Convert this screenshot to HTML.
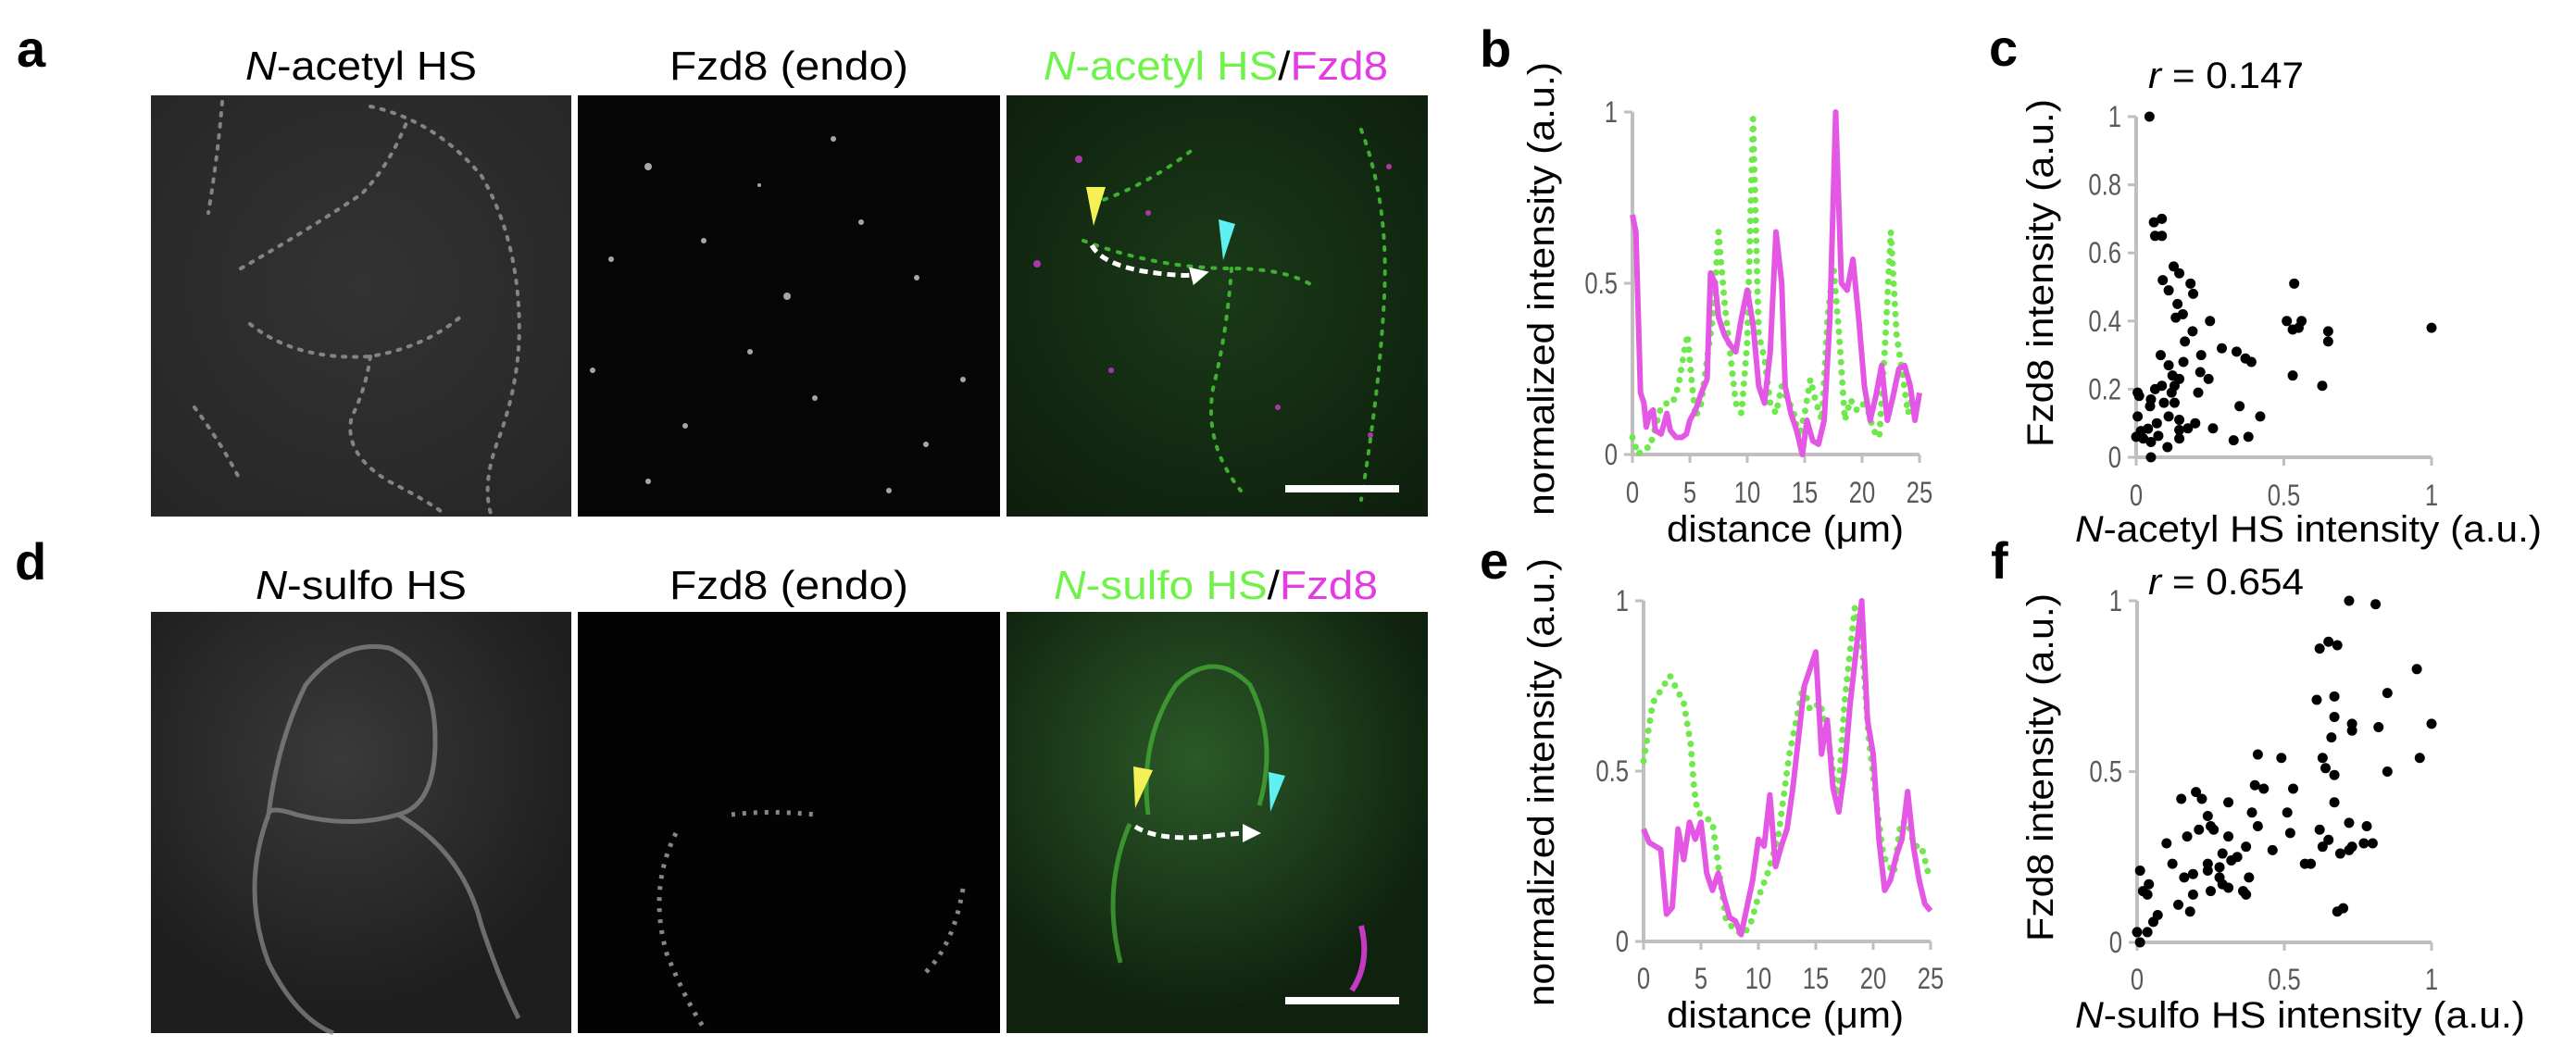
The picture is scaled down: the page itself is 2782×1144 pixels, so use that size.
<!DOCTYPE html>
<html><head><meta charset="utf-8"><style>
html,body{margin:0;padding:0;background:#fff;width:2782px;height:1144px;overflow:hidden}
svg{display:block}
text{font-family:"Liberation Sans",sans-serif}
</style></head><body>
<svg id="fig" width="2782" height="1144" viewBox="0 0 2782 1144" xmlns="http://www.w3.org/2000/svg">
<defs>
<radialGradient id="g1" cx="0.5" cy="0.45" r="0.7"><stop offset="0" stop-color="#333"/><stop offset="1" stop-color="#262626"/></radialGradient>
<radialGradient id="g3" cx="0.5" cy="0.45" r="0.7"><stop offset="0" stop-color="#1a3a18"/><stop offset="1" stop-color="#0e1f0d"/></radialGradient>
<radialGradient id="g4" cx="0.45" cy="0.35" r="0.6"><stop offset="0" stop-color="#3a3a3a"/><stop offset="1" stop-color="#1e1e1e"/></radialGradient>
<radialGradient id="g6" cx="0.45" cy="0.35" r="0.6"><stop offset="0" stop-color="#2c5a28"/><stop offset="1" stop-color="#0f220e"/></radialGradient>
<marker id="ah" markerWidth="4" markerHeight="4" refX="2" refY="2" orient="auto" markerUnits="strokeWidth"><path d="M0,0 L4,2 L0,4 z" fill="#fff"/></marker>
</defs>

<!-- panel letters -->
<text x="18" y="72" font-size="56" font-weight="bold">a</text>
<text x="16" y="626" font-size="56" font-weight="bold">d</text>
<text x="1598" y="72" font-size="56" font-weight="bold">b</text>
<text x="1598" y="625" font-size="56" font-weight="bold">e</text>
<text x="2148" y="71" font-size="56" font-weight="bold">c</text>
<text x="2150" y="625" font-size="56" font-weight="bold">f</text>

<!-- image titles row 1 -->
<text x="390" y="86" font-size="44" text-anchor="middle" textLength="250" lengthAdjust="spacingAndGlyphs"><tspan font-style="italic">N</tspan>-acetyl HS</text>
<text x="852" y="86" font-size="44" text-anchor="middle" textLength="258" lengthAdjust="spacingAndGlyphs">Fzd8 (endo)</text>
<text x="1313" y="86" font-size="44" text-anchor="middle" textLength="372" lengthAdjust="spacingAndGlyphs"><tspan fill="#6ff24a"><tspan font-style="italic">N</tspan>-acetyl HS</tspan><tspan fill="#000">/</tspan><tspan fill="#e23ce2">Fzd8</tspan></text>
<!-- row 2 -->
<text x="390" y="647" font-size="44" text-anchor="middle" textLength="228" lengthAdjust="spacingAndGlyphs"><tspan font-style="italic">N</tspan>-sulfo HS</text>
<text x="852" y="647" font-size="44" text-anchor="middle" textLength="258" lengthAdjust="spacingAndGlyphs">Fzd8 (endo)</text>
<text x="1313" y="647" font-size="44" text-anchor="middle" textLength="350" lengthAdjust="spacingAndGlyphs"><tspan fill="#6ff24a"><tspan font-style="italic">N</tspan>-sulfo HS</tspan><tspan fill="#000">/</tspan><tspan fill="#e23ce2">Fzd8</tspan></text>

<!-- micrographs row 1 -->
<g>
<rect x="163" y="103" width="454" height="455" fill="url(#g1)"/>
<g fill="none" stroke="#9a9a9a" stroke-width="4" stroke-dasharray="3 9" stroke-linecap="round" opacity="0.8">
<path d="M400,115 Q470,130 520,190 Q555,250 560,330 Q565,400 540,470 Q520,520 530,555"/>
<path d="M260,290 Q330,250 390,210 Q420,180 440,130"/>
<path d="M270,350 Q320,390 400,385 Q460,375 500,340"/>
<path d="M400,385 Q395,420 380,450 Q370,490 420,520 Q460,540 480,555"/>
<path d="M210,440 Q240,480 260,520"/>
<path d="M240,110 Q235,170 225,230"/>
</g></g>
<g>
<rect x="624" y="103" width="456" height="455" fill="#050505"/>
<g fill="#cfcfcf" opacity="0.8">
<circle cx="700" cy="180" r="4"/><circle cx="760" cy="260" r="3"/><circle cx="850" cy="320" r="4"/><circle cx="810" cy="380" r="3"/>
<circle cx="660" cy="280" r="3"/><circle cx="930" cy="240" r="3"/><circle cx="990" cy="300" r="3"/><circle cx="880" cy="430" r="3"/>
<circle cx="740" cy="460" r="3"/><circle cx="1000" cy="480" r="3"/><circle cx="700" cy="520" r="3"/><circle cx="960" cy="530" r="3"/>
<circle cx="1040" cy="410" r="3"/><circle cx="640" cy="400" r="3"/><circle cx="820" cy="200" r="2"/><circle cx="900" cy="150" r="3"/>
</g></g>
<g>
<rect x="1087" y="103" width="455" height="455" fill="url(#g3)"/>
<g fill="none" stroke="#4bcf3a" stroke-width="4" stroke-dasharray="3 10" stroke-linecap="round" opacity="0.8">
<path d="M1170,260 Q1250,290 1330,290 Q1390,290 1420,310"/>
<path d="M1330,290 Q1325,360 1310,420 Q1300,480 1340,530"/>
<path d="M1470,140 Q1500,220 1495,320 Q1490,420 1470,540"/>
<path d="M1180,220 Q1240,200 1290,160"/>
</g>
<g fill="#c53ac5" opacity="0.85"><circle cx="1165" cy="172" r="4"/><circle cx="1120" cy="285" r="4"/><circle cx="1500" cy="180" r="3"/><circle cx="1240" cy="230" r="3"/><circle cx="1480" cy="470" r="3"/><circle cx="1200" cy="400" r="3"/><circle cx="1380" cy="440" r="3"/></g>
<path d="M1173,202 L1194,202 L1181,244 z" fill="#f4f056"/>
<path d="M1316,237 L1334,242 L1321,281 z" fill="#5ff0f2"/>
<path d="M1179,265 Q1190,285 1235,293 Q1280,300 1296,296" fill="none" stroke="#fff" stroke-width="5" stroke-dasharray="9 6" marker-end="url(#ah)"/>
<rect x="1388" y="524" width="123" height="8" fill="#fff"/>
</g>

<!-- micrographs row 2 -->
<g>
<rect x="163" y="661" width="454" height="455" fill="url(#g4)"/>
<g fill="none" stroke="#8d8d8d" stroke-width="5" opacity="0.7">
<path d="M290,880 Q300,800 330,740 Q370,690 420,700 Q470,720 470,800 Q470,870 430,880 Q380,895 320,880 Q290,870 290,880"/>
<path d="M290,880 Q260,960 290,1040 Q320,1100 360,1116"/>
<path d="M430,880 Q500,920 520,1000 Q540,1060 560,1100"/>
</g></g>
<g>
<rect x="624" y="661" width="456" height="455" fill="#030303"/>
<g fill="none" stroke="#bfbfbf" stroke-width="5" stroke-dasharray="4 8" opacity="0.7">
<path d="M790,880 Q830,875 880,880"/><path d="M730,900 Q700,960 720,1030 Q740,1080 760,1110"/><path d="M1040,960 Q1030,1020 1000,1050"/>
</g></g>
<g>
<rect x="1087" y="661" width="455" height="455" fill="url(#g6)"/>
<g fill="none" stroke="#4ec93c" stroke-width="5" opacity="0.6">
<path d="M1240,880 Q1230,800 1270,740 Q1310,700 1350,740 Q1380,800 1360,870"/>
<path d="M1220,890 Q1190,960 1210,1040"/>
</g>
<path d="M1470,1000 Q1480,1040 1460,1070" stroke="#c53ac5" stroke-width="6" fill="none"/>
<path d="M1224,828 L1245,832 L1226,873 z" fill="#f4f056"/>
<path d="M1370,834 L1388,838 L1372,877 z" fill="#5ff0f2"/>
<path d="M1226,893 Q1250,908 1300,904 Q1335,900 1352,900" fill="none" stroke="#fff" stroke-width="5" stroke-dasharray="9 6" marker-end="url(#ah)"/>
<rect x="1388" y="1077" width="123" height="8" fill="#fff"/>
</g>

<g id="charts"></g>
</svg>
<script>
// ---- Panel b data ----
const bMagX = [0,0.3,0.7,1,1.2,1.5,1.8,2,2.5,3,3.3,3.8,4.3,4.7,5,5.5,6,6.5,6.8,7.2,7.5,8,8.5,9,9.5,10,10.5,11,11.5,12,12.5,13,13.3,13.8,14.3,14.8,15.2,15.7,16.2,16.7,17.2,17.7,18.2,18.7,19.2,19.7,20.2,20.7,21.2,21.7,22.2,22.7,23.2,23.7,24.2,24.6,25];
const bMagY = [0.70,0.65,0.18,0.15,0.08,0.12,0.13,0.07,0.06,0.12,0.07,0.05,0.05,0.06,0.10,0.13,0.18,0.22,0.53,0.50,0.40,0.35,0.32,0.30,0.40,0.48,0.38,0.20,0.15,0.30,0.65,0.50,0.20,0.12,0.07,0.0,0.10,0.04,0.03,0.10,0.40,1.0,0.50,0.48,0.57,0.40,0.20,0.10,0.17,0.26,0.10,0.17,0.25,0.26,0.20,0.10,0.18];
const bGrnX = [0,0.5,1,1.5,2,2.5,3,3.5,4,4.5,4.8,5.2,5.5,6,6.5,7,7.5,8,8.5,9,9.5,10,10.5,11,11.5,12,12.5,13,13.5,14,14.5,15,15.5,16,16.5,17,17.5,18,18.5,19,19.5,20,20.5,21,21.5,22,22.5,23,23.5,24,24.5];
const bGrnY = [0.05,0.0,0.02,0.02,0.08,0.14,0.15,0.15,0.20,0.30,0.35,0.20,0.11,0.15,0.28,0.40,0.65,0.45,0.30,0.15,0.12,0.33,0.98,0.35,0.28,0.15,0.12,0.20,0.16,0.13,0.05,0.12,0.22,0.15,0.10,0.40,0.55,0.35,0.10,0.16,0.13,0.15,0.13,0.07,0.05,0.32,0.65,0.35,0.24,0.12,0.18];
// ---- Panel e data ----
const eMagX = [0,0.5,1,1.5,2,2.5,3,3.5,4,4.5,5,5.5,6,6.5,7,7.5,8,8.5,9,9.5,10,10.5,11,11.5,12,12.5,13,13.5,14,14.5,15,15.5,16,16.5,17,17.5,18,18.5,19,19.5,20,20.5,21,21.5,22,22.5,23,23.5,24,24.5,25];
const eMagY = [0.33,0.29,0.28,0.27,0.08,0.10,0.33,0.24,0.35,0.30,0.35,0.20,0.15,0.20,0.13,0.07,0.06,0.02,0.10,0.18,0.30,0.28,0.43,0.22,0.28,0.33,0.45,0.60,0.75,0.80,0.85,0.55,0.65,0.45,0.38,0.50,0.70,0.85,1.0,0.65,0.55,0.30,0.15,0.18,0.25,0.30,0.44,0.28,0.18,0.11,0.09];
const eGrnX = [0,0.8,2.3,3.5,4.1,4.4,4.7,6,6.6,7.2,8.1,8.7,9.3,9.9,10.8,11.7,12.7,13.9,14.5,15.4,16.3,16.9,17.5,18.4,19,19.6,20.3,20.9,21.8,22.4,23,23.6,24.2,24.8];
const eGrnY = [0.53,0.70,0.78,0.70,0.58,0.45,0.38,0.35,0.20,0.06,0.03,0.02,0.05,0.12,0.20,0.30,0.55,0.75,0.68,0.70,0.55,0.40,0.70,0.98,0.88,0.60,0.40,0.25,0.20,0.35,0.35,0.28,0.28,0.20];
const distTicks = [0,5,10,15,20,25];
const intTicks = [0,0.5,1];
const intTickLabels = ["0","0.5","1"];
// ---- Panel c data ----
const cX = [0.045,0.06,0.087,0.064,0.087,0.127,0.09,0.146,0.184,0.11,0.193,0.14,0.158,0.134,0.25,0.191,0.165,0.083,0.29,0.34,0.37,0.39,0.22,0.16,0.11,0.217,0.245,0.123,0.146,0.087,0.13,0.064,0.005,0.21,0.12,0.01,0.05,0.094,0.13,0.35,0.047,0.005,0.11,0.42,0.146,0.07,0.2,0.175,0.26,0.04,0.016,0.146,0,0.075,0.024,0.146,0.05,0.106,0.33,0.38,0.05,0.535,0.51,0.56,0.53,0.55,0.65,0.65,0.53,0.63,1.0];
const cY = [1.0,0.69,0.70,0.65,0.65,0.56,0.52,0.54,0.51,0.49,0.48,0.45,0.42,0.41,0.40,0.37,0.34,0.30,0.32,0.31,0.29,0.28,0.30,0.28,0.27,0.25,0.23,0.24,0.23,0.21,0.21,0.20,0.19,0.19,0.19,0.18,0.17,0.16,0.16,0.15,0.15,0.12,0.12,0.12,0.11,0.10,0.10,0.085,0.085,0.084,0.077,0.08,0.06,0.063,0.055,0.055,0.045,0.03,0.05,0.06,0.0,0.51,0.40,0.40,0.375,0.38,0.37,0.34,0.24,0.21,0.38];
const cYTicks = [0,0.2,0.4,0.6,0.8,1];
const cYTickLabels = ["0","0.2","0.4","0.6","0.8","1"];
const scXTicks = [0,0.5,1];
const scXTickLabels = ["0","0.5","1"];
// ---- Panel f data ----
const fX = [0.72,0.81,0.62,0.65,0.68,0.95,0.85,0.61,0.67,0.67,0.73,0.73,0.82,1.0,0.66,0.41,0.49,0.63,0.96,0.64,0.67,0.85,0.40,0.43,0.53,0.15,0.2,0.22,0.31,0.67,0.39,0.51,0.24,0.41,0.21,0.25,0.26,0.62,0.72,0.78,0.52,0.31,0.10,0.17,0.65,0.80,0.77,0.73,0.72,0.63,0.46,0.37,0.69,0.29,0.34,0.32,0.24,0.28,0.59,0.57,0.12,0.24,0.19,0.16,0.28,0.38,0.29,0.25,0.31,0.36,0.37,0.19,0.01,0.04,0.02,0.035,0.14,0.18,0.07,0.055,0,0.035,0.01,0.68,0.70];
const fY = [1.0,0.99,0.86,0.88,0.87,0.80,0.73,0.71,0.72,0.66,0.64,0.62,0.63,0.64,0.60,0.55,0.54,0.54,0.54,0.51,0.49,0.50,0.46,0.45,0.45,0.42,0.44,0.42,0.41,0.41,0.38,0.38,0.37,0.34,0.33,0.34,0.33,0.33,0.35,0.34,0.32,0.31,0.29,0.31,0.30,0.29,0.29,0.28,0.27,0.28,0.27,0.28,0.26,0.26,0.25,0.24,0.23,0.22,0.23,0.23,0.23,0.21,0.20,0.19,0.19,0.19,0.17,0.15,0.16,0.15,0.14,0.14,0.21,0.17,0.15,0.14,0.11,0.09,0.08,0.06,0.03,0.03,0.0,0.09,0.10];
const fYTicks = [0,0.5,1];
const fYTickLabels = ["0","0.5","1"];

const NS = "http://www.w3.org/2000/svg";
const root = document.getElementById("charts");
function mk(tag, attrs, parent){
  const e = document.createElementNS(NS, tag);
  for (const k in attrs) e.setAttribute(k, attrs[k]);
  (parent||root).appendChild(e);
  return e;
}
function lin(d0,d1,r0,r1){ return v => r0 + (v-d0)/(d1-d0)*(r1-r0); }
const AX = "#bfbfbf", TK = "#595959";

function axes(g, sx, sy, x0, x1, y0, y1, xt, xtl, yt, ytl, xLabY){
  const ax = mk("path", {d:`M${sx(x0)},${sy(y1)} L${sx(x0)},${sy(y0)} L${sx(x1)},${sy(y0)}`, fill:"none", stroke:AX, "stroke-width":4}, g);
  
  
  yt.forEach((v,i)=>{
    const t = mk("line",{x1:sx(x0)-9,x2:sx(x0),y1:sy(v),y2:sy(v),stroke:AX,"stroke-width":3},g);
    
    
    const l = mk("text",{x:sx(x0)-16,y:sy(v)+11,"font-size":32,"text-anchor":"end",fill:TK,transform:`translate(${sx(x0)-16},0) scale(0.8,1) translate(${-(sx(x0)-16)},0)`},g);
    l.textContent = ytl[i];
    
    
  });
  xt.forEach((v,i)=>{
    const t = mk("line",{x1:sx(v),x2:sx(v),y1:sy(y0),y2:sy(y0)+9,stroke:AX,"stroke-width":3},g);
    
    
    const l = mk("text",{x:sx(v),y:xLabY,"font-size":32,"text-anchor":"middle",fill:TK,transform:`translate(${sx(v)},0) scale(0.8,1) translate(${-sx(v)},0)`},g);
    l.textContent = xtl[i];
    
    
  });
}
function lineChart(name, X0, X1, Y0, Y1, magX, magY, grnX, grnY, xLabY){
  const g = mk("g",{});
  
  
  const sx = lin(0,25,X0,X1), sy = lin(0,1,Y0,Y1);
  axes(g, sx, sy, 0, 25, 0, 1, distTicks, distTicks.map(String), intTicks, intTickLabels, xLabY);
  const gp = mk("path",{d:grnX.map((x,i)=>(i?"L":"M")+sx(x)+","+sy(grnY[i])).join(" "),fill:"none",stroke:"#6ee84a","stroke-width":7,"stroke-linecap":"round","stroke-dasharray":"0 11"},g);
  
  
  const mp = mk("path",{d:magX.map((x,i)=>(i?"L":"M")+sx(x)+","+sy(magY[i])).join(" "),fill:"none",stroke:"#e457e4","stroke-width":6,"stroke-linejoin":"round"},g);
  
  
  return g;
}
function scatter(name, X0, X1, Y0, Y1, xs, ys, yt, ytl, xLabY){
  const g = mk("g",{});
  
  
  const sx = lin(0,1,X0,X1), sy = lin(0,1,Y0,Y1);
  axes(g, sx, sy, 0, 1, 0, 1, scXTicks, scXTickLabels, yt, ytl, xLabY);
  xs.forEach((x,i)=>{
    const c = mk("circle",{cx:sx(x),cy:sy(ys[i]),r:5.5,fill:"#000"},g);
    
    
  });
}
lineChart("chart-b-line-profile", 1763, 2073, 491, 121, bMagX, bMagY, bGrnX, bGrnY, 543);
lineChart("chart-e-line-profile", 1775, 2085, 1017, 649, eMagX, eMagY, eGrnX, eGrnY, 1068);
scatter("chart-c-scatter", 2307, 2626, 494, 126, cX, cY, cYTicks, cYTickLabels, 546);
scatter("chart-f-scatter", 2308, 2626, 1018, 649, fX, fY, fYTicks, fYTickLabels, 1069);

function txt(s, attrs, name){
  const t = mk("text", attrs);
  t.innerHTML = s;
  
  
}
txt("normalized intensity (a.u.)",{x:0,y:0,"font-size":40,"text-anchor":"middle",transform:"translate(1678,312) rotate(-90)",textLength:490,lengthAdjust:"spacingAndGlyphs"},"y-axis-title-b");
txt("normalized intensity (a.u.)",{x:0,y:0,"font-size":40,"text-anchor":"middle",transform:"translate(1678,845) rotate(-90)",textLength:484,lengthAdjust:"spacingAndGlyphs"},"y-axis-title-e");
txt("Fzd8 intensity (a.u.)",{x:0,y:0,"font-size":40,"text-anchor":"middle",transform:"translate(2217,295) rotate(-90)",textLength:376,lengthAdjust:"spacingAndGlyphs"},"y-axis-title-c");
txt("Fzd8 intensity (a.u.)",{x:0,y:0,"font-size":40,"text-anchor":"middle",transform:"translate(2217,829) rotate(-90)",textLength:376,lengthAdjust:"spacingAndGlyphs"},"y-axis-title-f");
txt("distance (μm)",{x:1928,y:585,"font-size":40,"text-anchor":"middle",textLength:256,lengthAdjust:"spacingAndGlyphs"},"x-axis-title-b");
txt("distance (μm)",{x:1928,y:1110,"font-size":40,"text-anchor":"middle",textLength:256,lengthAdjust:"spacingAndGlyphs"},"x-axis-title-e");
txt('<tspan font-style="italic">N</tspan>-acetyl HS intensity (a.u.)',{x:2493,y:585,"font-size":40,"text-anchor":"middle",textLength:504,lengthAdjust:"spacingAndGlyphs"},"x-axis-title-c");
txt('<tspan font-style="italic">N</tspan>-sulfo HS intensity (a.u.)',{x:2484,y:1110,"font-size":40,"text-anchor":"middle",textLength:486,lengthAdjust:"spacingAndGlyphs"},"x-axis-title-f");
txt('<tspan font-style="italic">r</tspan> = 0.147',{x:2320,y:95,"font-size":40,textLength:168,lengthAdjust:"spacingAndGlyphs"},"correlation-c");
txt('<tspan font-style="italic">r</tspan> = 0.654',{x:2320,y:642,"font-size":40,textLength:168,lengthAdjust:"spacingAndGlyphs"},"correlation-f");
</script>
</body></html>
